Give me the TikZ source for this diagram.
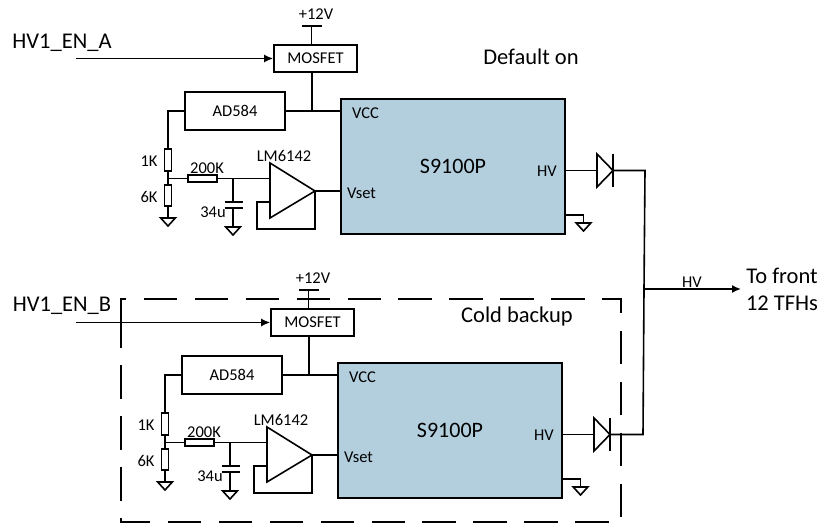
\documentclass[tikz,border=0pt]{standalone}
\usepackage{fontspec}
\setmainfont{Carlito}
\usetikzlibrary{arrows.meta}
\definecolor{chipblue}{HTML}{B3CFDE}
\tikzset{
  wire/.style={draw=black,line width=1.6pt,line join=miter},
  flow/.style={wire,-{Latex[length=9pt,width=8pt]}},
  boxnode/.style={draw=black,line width=1.6pt,inner sep=0pt,font=\fontsize{16.5}{18}\selectfont},
  chip/.style={boxnode,fill=chipblue,minimum width=224pt,minimum height=135pt,font=\fontsize{22}{24}\selectfont},
  resistorv/.style={draw=black,line width=1.6pt,inner sep=0pt,minimum width=7pt,minimum height=22pt},
  resistorh/.style={draw=black,line width=1.6pt,inner sep=0pt,minimum width=29pt,minimum height=7pt},
  small/.style={inner sep=0pt,font=\fontsize{16.5}{18}\selectfont},
  big/.style={inner sep=0pt,font=\fontsize{22.5}{24}\selectfont},
  dashbox/.style={draw=black,line width=1.6pt,dash pattern=on 33.4pt off 17.5pt}
}
% ground symbol hanging from the given coordinate
\newcommand{\gndsym}[1]{\draw[wire] (#1) ++(-7.3,0) -- ++(14.6,0) -- ++(-7.3,8) -- cycle;}
\newcommand{\circuitblock}[1]{%
  \node[boxnode,minimum width=83pt,minimum height=27pt] (#1mos) at (315.5,58.5) {MOSFET};
  \node[boxnode,minimum width=100pt,minimum height=38pt] (#1ad) at (235,111) {AD584};
  \node[chip] (#1chip) at (453,166.5) {S9100P};
  \node[resistorv] (#1ra) at (168,160) {};
  \node[resistorv,minimum height=21pt] (#1rb) at (168,195.5) {};
  \node[resistorh] (#1rc) at (202.5,178.5) {};
  \coordinate (#1vcc) at (312,111);
  \coordinate (#1vbar) at (311.5,26);
  \coordinate (#1junc) at (168,178.5);
  \coordinate (#1capj) at (233,178.5);
  \coordinate (#1gnda) at (168,218);
  \coordinate (#1gndb) at (233,227);
  \coordinate (#1gndc) at (583.5,223);
  \coordinate (#1oa) at (270,163);
  \coordinate (#1ob) at (270,218);
  \coordinate (#1oc) at (315,191);
  \coordinate (#1da) at (597,154);
  \coordinate (#1db) at (597,187);
  \coordinate (#1dc) at (613,170.5);
  \draw[wire] (302,26) -- (322,26);
  \draw[wire] (#1vbar) -- (#1vbar |- #1mos.north);
  \draw[wire] (#1vcc |- #1mos.south) -- (#1vcc);
  \draw[wire] (#1ad.east |- #1vcc) -- (#1chip.west |- #1vcc);
  \draw[wire] (#1ad.west) -| (#1ra.north);
  \draw[wire] (#1ra.south) -- (#1rb.north);
  \draw[wire] (#1rb.south) -- (#1gnda);
  \gndsym{#1gnda}
  \draw[wire] (#1junc) -- (#1rc.west);
  \draw[wire] (#1rc.east) -- (#1oa |- #1rc.east);
  \draw[wire] (#1capj) -- (233,202) (224.5,202) -- (243,202) (224.5,208) -- (243,208) (233,208) -- (#1gndb);
  \gndsym{#1gndb}
  \draw[wire] (#1oa) -- (#1ob) -- (#1oc) -- cycle;
  \draw[wire] (270,202) -- (257,202) -- (257,229) -- (315,229) -- (#1oc);
  \draw[wire] (#1oc) -- (#1chip.west |- #1oc);
  \draw[wire] (#1chip.east |- #1dc) -- (#1da |- #1dc);
  \draw[wire] (#1da) -- (#1db) -- (#1dc) -- cycle;
  \draw[wire] (613,154) -- (613,187);
  \draw[wire] (#1chip.east |- 0,215) -- (583.5,215) -- (#1gndc);
  \gndsym{#1gndc}
  \node[small] (#1v) at (316,14) {+12V};
  \node[small,anchor=west] (#1vc) at (352,113) {VCC};
  \node[small,anchor=west] (#1vs) at (347,193) {Vset};
  \node[small,anchor=east] (#1hv) at (557,171) {HV};
  \node[small] (#1ka) at (149,161) {1K};
  \node[small] (#1kb) at (149,197) {6K};
  \node[small] (#1kc) at (207,168) {200K};
  \node[small] (#1lm) at (284,156) {LM6142};
  \node[small] (#1cu) at (213,212) {34u};
}
\begin{document}
\begin{tikzpicture}[x=1pt,y=-1pt]
\useasboundingbox (0,0) rectangle (821,524);
\begin{scope}[shift={(0,0)}]\circuitblock{a}\end{scope}
\begin{scope}[shift={(-3,264)}]\circuitblock{b}\end{scope}
\node[big] (ena) at (62,43) {HV1\_EN\_A};
\node[big] (enb) at (62,306) {HV1\_EN\_B};
\coordinate (sa) at (76,58.5);
\coordinate (sb) at (76,322.5);
\draw[flow] (sa) -- (amos.west);
\draw[flow] (sb) -- (bmos.west);
\node[big] (def) at (531,57) {Default on};
\node[big] (cold) at (517,316) {Cold backup};
\coordinate (out) at (644,289);
\coordinate (end) at (741,289);
\draw[wire] (adc) -- (645,170.5) -- (out);
\draw[wire] (bdc) -- (643,434.5) -- (out);
\draw[flow] (out) -- (end);
\node[small] (hvo) at (692,282) {HV};
\node[big] (ta) at (782,276) {To front};
\node[big] (tb) at (782,303) {12 TFHs};
\coordinate (dashstart) at (121,327);
\draw[dashbox] (dashstart) -- (121,299) -- (621,299) -- (621,522) -- (121,522) -- cycle;
\end{tikzpicture}
\end{document}
